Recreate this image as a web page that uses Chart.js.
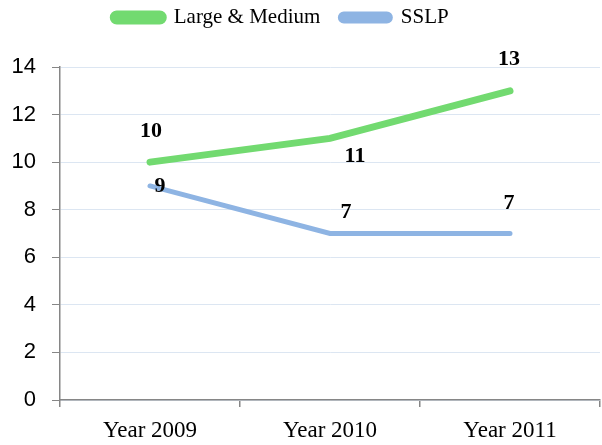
<!DOCTYPE html>
<html>
<head>
<meta charset="utf-8">
<script src="https://cdn.jsdelivr.net/npm/chart.js@4"></script>
<style>
  html, body { margin: 0; padding: 0; background: #fff; }
  #wrap { width: 602px; height: 445px; }
</style>
</head>
<body>
<div id="wrap"><canvas id="myChart"></canvas></div>
<script>
// data
const years = ['Year 2009', 'Year 2010', 'Year 2011'];
const largeMedium = [10, 11, 13];
const sslp = [9, 7, 7];
const yTicks = [0, 2, 4, 6, 8, 10, 12, 14];

// label offsets (dx, dy) relative to each point, per dataset
const labelOffsets = [
  [[1, -31], [25, 18], [-1, -31]],
  [[10, 0], [16, -21], [-1, -30]]
];

const valueLabels = {
  id: 'valueLabels',
  afterDatasetsDraw(chart) {
    const ctx = chart.ctx;
    ctx.save();
    ctx.font = 'bold 22px "Liberation Serif"';
    ctx.fillStyle = '#000';
    ctx.textAlign = 'center';
    ctx.textBaseline = 'middle';
    chart.data.datasets.forEach((ds, i) => {
      chart.getDatasetMeta(i).data.forEach((pt, j) => {
        const off = labelOffsets[i][j];
        ctx.fillText(ds.data[j], pt.x + off[0], pt.y + off[1]);
      });
    });
    ctx.restore();
  }
};

// legend sits higher and a bit left, like the original
const legendSpace = {
  id: 'legendSpace',
  beforeInit(chart) {
    const fit = chart.legend.fit;
    chart.legend.fit = function () {
      fit.bind(chart.legend)();
      this.height += 14;
    };
  },
  afterLayout(chart) {
    chart.legend.left -= 19;
    chart.legend.right -= 19;
    chart.legend.top -= 15;
  }
};

const ctx = document.getElementById('myChart').getContext('2d');
const chart = new Chart(ctx, {
  type: 'line',
  data: {
    labels: years,
    datasets: [
      {
        label: 'Large & Medium',
        data: largeMedium,
        borderColor: '#72da70',
        backgroundColor: '#72da70',
        borderWidth: 7,
        borderCapStyle: 'round',
        pointRadius: 0,
        tension: 0
      },
      {
        label: 'SSLP',
        data: sslp,
        borderColor: '#8eb4e3',
        backgroundColor: '#8eb4e3',
        borderWidth: 5,
        borderCapStyle: 'round',
        pointRadius: 0,
        tension: 0
      }
    ]
  },
  options: {
    responsive: true,
    maintainAspectRatio: false,
    animation: false,
    layout: { padding: { left: 0, right: 2, top: 2, bottom: 0 } },
    plugins: {
      legend: {
        position: 'top',
        labels: {
          font: { family: '"Liberation Serif"', size: 21 },
          color: '#000',
          boxWidth: 50,
          boxHeight: 7,
          useBorderRadius: true,
          borderRadius: 3.5,
          padding: 20
        }
      },
      tooltip: { enabled: false }
    },
    scales: {
      x: {
        offset: true,
        grid: {
          offset: true,
          drawOnChartArea: false,
          tickLength: 7,
          tickColor: '#868686',
          lineWidth: 1.5
        },
        border: { color: '#868686', width: 1.5 },
        ticks: {
          font: { family: '"Liberation Serif"', size: 23 },
          color: '#000',
          padding: 10
        },
        afterFit(scale) { scale.height = 45; }
      },
      y: {
        min: 0,
        max: 14,
        afterBuildTicks(scale) { scale.ticks = yTicks.map(v => ({ value: v })); },
        grid: {
          color: '#dce6f2',
          lineWidth: 1,
          tickLength: 8,
          tickColor: '#868686'
        },
        border: { color: '#868686', width: 1.5 },
        ticks: {
          font: { family: '"Liberation Sans"', size: 22 },
          color: '#000',
          padding: 16
        },
        afterFit(scale) { scale.width = 60; }
      }
    }
  },
  plugins: [valueLabels, legendSpace]
});
</script>
</body>
</html>
